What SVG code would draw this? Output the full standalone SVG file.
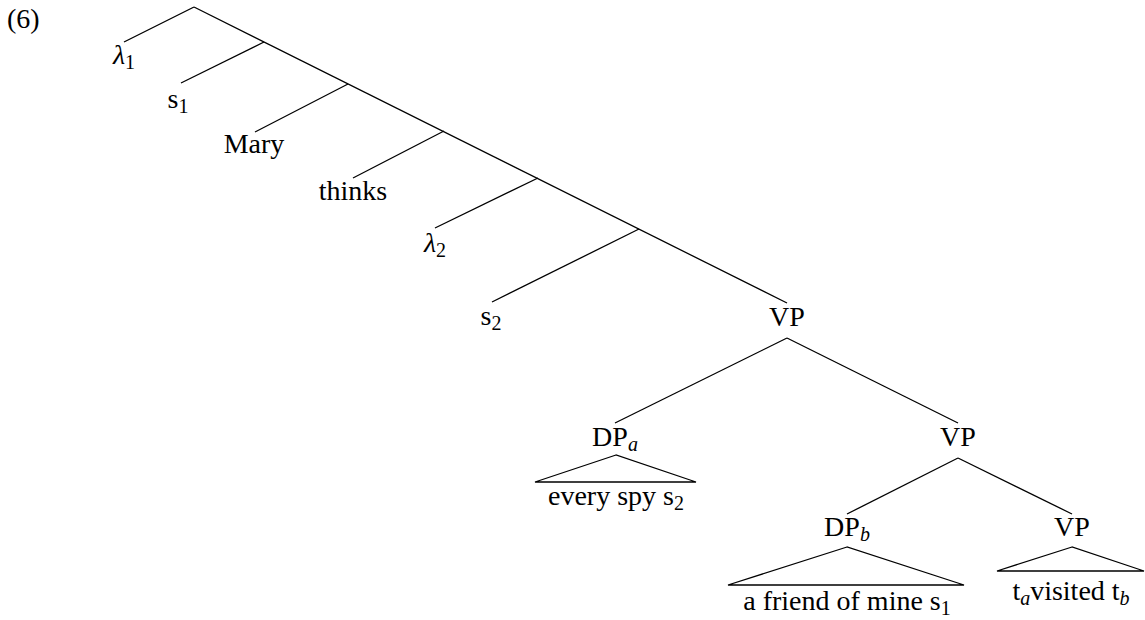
<svg xmlns="http://www.w3.org/2000/svg" width="1145" height="620" viewBox="0 0 1145 620">
<style>
text{font-family:"Liberation Serif","Times New Roman",serif;font-size:28px;fill:#000}
.c{text-anchor:middle}
.sub{font-size:20px}
.it{font-style:italic}
.edge{stroke:#000;stroke-width:1.3;fill:none}
.tri{stroke:#000;stroke-width:1.3;fill:none;stroke-linejoin:miter}
</style>
<rect width="1145" height="620" fill="#fff"/>
<g id="connectors">
<polyline class="edge" points="194,7 787,303"/>
<line class="edge" x1="194" y1="7" x2="124" y2="42"/>
<line class="edge" x1="264" y1="42" x2="181" y2="83"/>
<line class="edge" x1="348" y1="84" x2="255" y2="132"/>
<line class="edge" x1="444" y1="131" x2="353" y2="178"/>
<line class="edge" x1="538" y1="178" x2="435" y2="228"/>
<line class="edge" x1="639" y1="229" x2="492" y2="302"/>
<line class="edge" x1="787" y1="338" x2="615" y2="423"/>
<line class="edge" x1="787" y1="338" x2="958" y2="423"/>
<line class="edge" x1="958" y1="458" x2="847" y2="514"/>
<line class="edge" x1="958" y1="458" x2="1072" y2="514"/>
</g>
<g id="label-6"><text x="7" y="28">(6)</text></g>
<g id="n-lambda1"><text class="c" x="124" y="64"><tspan class="it">λ</tspan><tspan class="sub" dy="5">1</tspan></text></g>
<g id="n-s1"><text class="c" x="178" y="108">s<tspan class="sub" dy="5">1</tspan></text></g>
<g id="n-mary"><text class="c" x="254" y="153">Mary</text></g>
<g id="n-thinks"><text class="c" x="353" y="200">thinks</text></g>
<g id="n-lambda2"><text class="c" x="435" y="252"><tspan class="it">λ</tspan><tspan class="sub" dy="5">2</tspan></text></g>
<g id="n-s2"><text class="c" x="491" y="325">s<tspan class="sub" dy="5">2</tspan></text></g>
<g id="n-vp1"><text class="c" x="787" y="326">VP</text></g>
<g id="n-dpa">
<text class="c" x="615" y="446">DP<tspan class="sub it" dy="5">a</tspan></text>
<polygon class="tri" points="616,455 535,482 696,482"/>
<text class="c" x="616" y="505">every spy s<tspan class="sub" dy="5">2</tspan></text>
</g>
<g id="n-vp2"><text class="c" x="958" y="446">VP</text></g>
<g id="n-dpb">
<text class="c" x="847" y="536">DP<tspan class="sub it" dy="5">b</tspan></text>
<polygon class="tri" points="847,547 728,585 964,585"/>
<text class="c" x="847" y="610">a friend of mine s<tspan class="sub" dy="5">1</tspan></text>
</g>
<g id="n-vp3">
<text class="c" x="1072" y="536">VP</text>
<polygon class="tri" points="1072,547 997,571 1144,571"/>
<text class="c" x="1071" y="600">t<tspan class="sub it" dy="5">a</tspan><tspan dy="-5">visited t</tspan><tspan class="sub it" dy="5">b</tspan></text>
</g>
</svg>
